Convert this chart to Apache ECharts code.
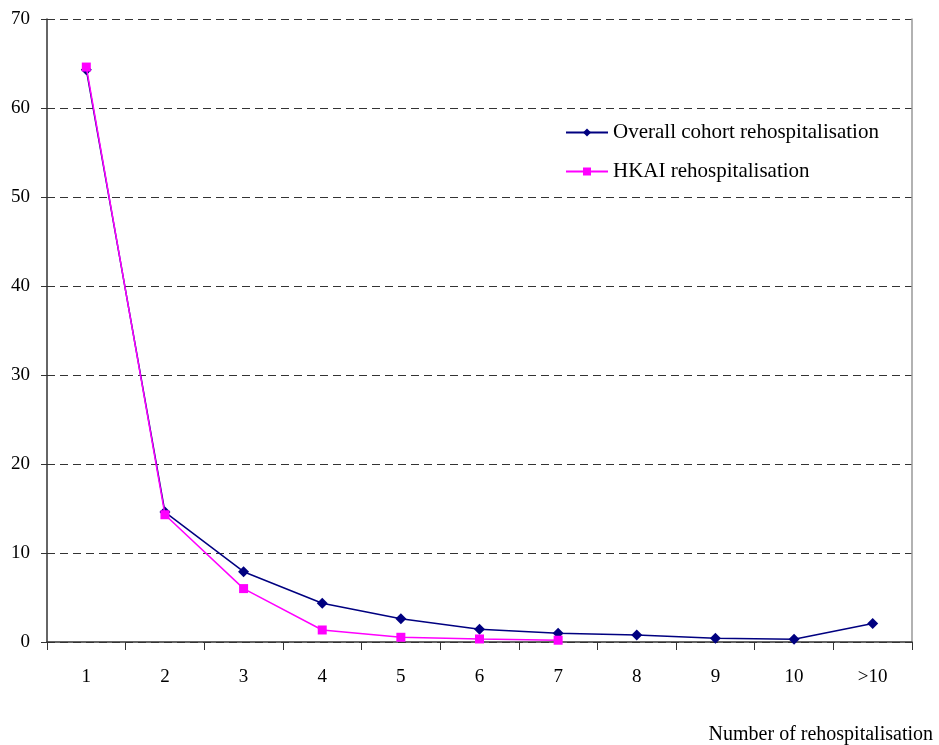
<!DOCTYPE html>
<html><head><meta charset="utf-8">
<script src="https://cdn.jsdelivr.net/npm/echarts@6/dist/echarts.min.js"></script>
<style>html,body{margin:0;padding:0;background:#fff}#c{width:939px;height:745px}</style>
</head><body><div id="c"></div>
<script>
const categories = ['1','2','3','4','5','6','7','8','9','10','>10'];
const overall = [64.3, 14.6, 7.9, 4.35, 2.6, 1.43, 0.98, 0.79, 0.42, 0.3, 2.07];
const hkai = [64.6, 14.3, 6.0, 1.35, 0.53, 0.34, 0.2, null, null, null, null];
const yTicks = [0, 10, 20, 30, 40, 50, 60, 70];

const font = '"Liberation Serif", "Times New Roman", serif';
const chart = echarts.init(document.getElementById('c'));
chart.setOption({
  animation: false,
  backgroundColor: '#fff',
  textStyle: { fontFamily: font },
  title: {
    text: 'Number of rehospitalisation',
    right: 1, bottom: -5,
    textStyle: { fontFamily: font, fontSize: 20, fontWeight: 'normal', color: '#000' }
  },
  legend: {
    orient: 'vertical',
    left: 560, top: 117,
    itemGap: 18,
    itemWidth: 42, itemHeight: 10,
    textStyle: { fontFamily: font, fontSize: 21, color: '#000' },
    data: ['Overall cohort rehospitalisation', 'HKAI rehospitalisation']
  },
  grid: { left: 47, right: 27, top: 19, bottom: 103, containLabel: false },
  xAxis: {
    type: 'category',
    data: categories,
    boundaryGap: true,
    axisLine: { lineStyle: { color: '#333', width: 1.5 } },
    axisTick: { show: true, alignWithLabel: false, length: 8, lineStyle: { color: '#333' } },
    axisLabel: { fontFamily: font, fontSize: 19, color: '#000', margin: 26 }
  },
  yAxis: [{
    type: 'value',
    min: yTicks[0], max: yTicks[yTicks.length - 1], interval: 10,
    axisLine: { show: true, lineStyle: { color: '#333', width: 1.5 } },
    axisTick: { show: true, length: 6, lineStyle: { color: '#333' } },
    axisLabel: { fontFamily: font, fontSize: 19, color: '#000', margin: 17 },
    splitLine: { show: true, lineStyle: { color: '#333', type: [8, 5], width: 1 } }
  }, {
    type: 'value', position: 'right',
    min: yTicks[0], max: yTicks[yTicks.length - 1], interval: 10,
    axisLine: { show: true, lineStyle: { color: '#999', width: 1.5 } },
    axisTick: { show: false }, axisLabel: { show: false }, splitLine: { show: false }
  }],
  series: [{
    name: 'Overall cohort rehospitalisation',
    type: 'line',
    data: overall,
    symbol: 'diamond', symbolSize: 11,
    itemStyle: { color: '#000080' },
    lineStyle: { color: '#000080', width: 1.5 },
    z: 3
  }, {
    name: 'HKAI rehospitalisation',
    type: 'line',
    data: hkai,
    symbol: 'rect', symbolSize: 9,
    itemStyle: { color: '#ff00ff' },
    lineStyle: { color: '#ff00ff', width: 1.5 },
    z: 4
  }]
});
</script></body></html>
